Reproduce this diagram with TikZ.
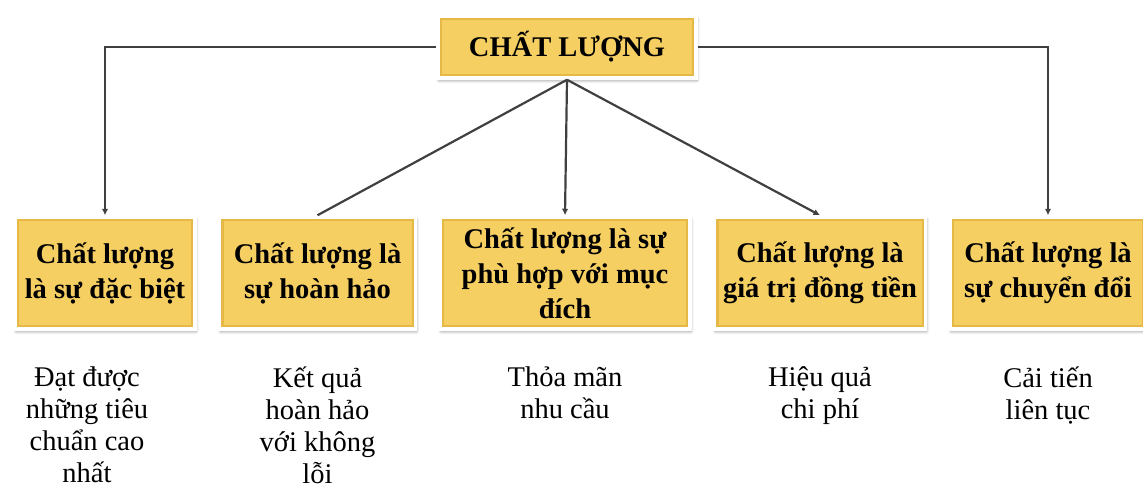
\documentclass[tikz,border=0pt]{standalone}
\usepackage{fontspec}
\setmainfont{Liberation Serif}
\usepackage{xcolor}
\usetikzlibrary{arrows.meta,shapes,positioning,shadows,shadows.blur}
\definecolor{boxgold}{RGB}{246,207,99}
\definecolor{boxrim}{RGB}{230,184,70}
\definecolor{linegray}{RGB}{64,64,64}
\tikzstyle{block} = [rectangle, draw=white, line width=3.5pt, fill=boxgold,
    align=center, minimum height=112pt, inner sep=2pt,
    font=\bfseries\fontsize{28.5}{35}\selectfont,
    blur shadow={shadow xshift=1pt, shadow yshift=-2.5pt, shadow blur steps=6,
        shadow blur radius=3pt, shadow opacity=40},
    path picture={\draw[boxrim, line width=8pt] (path picture bounding box.south west)
        rectangle (path picture bounding box.north east);}]
\tikzstyle{line} = [draw=linegray, line width=2.2pt, -{Latex[length=6.5pt, width=6.5pt]}]
\tikzstyle{plain} = [draw=linegray, line width=2.2pt]
\tikzstyle{note} = [align=center, inner sep=0pt, font=\fontsize{28.5}{32}\selectfont]

\begin{document}
\begin{tikzpicture}[x=1pt, y=-1pt, node distance=21pt]
    \useasboundingbox (0,0) rectangle (1143,483);
    % Place nodes
    \node [block, minimum width=258pt, minimum height=62pt] (quality) at (567,47) {CHẤT LƯỢNG};
    \node [block, minimum width=180pt] (special) at (105,273) {Chất lượng\\là sự đặc biệt};
    \node [block, minimum width=196pt, right=of special] (perfect) {Chất lượng là\\sự hoàn hảo};
    \node [block, minimum width=250pt, right=of perfect] (purpose) {Chất lượng là sự\\phù hợp với mục\\đích};
    \node [block, minimum width=211pt, right=of purpose] (value) {Chất lượng là\\giá trị đồng tiền};
    \node [block, minimum width=196pt, right=of value] (change) {Chất lượng là\\sự chuyển đổi};

    % Notes below the boxes
    \node [note, below=36pt of special, xshift=-18pt] (specialtxt) {Đạt được\\những tiêu\\chuẩn cao\\nhất};
    \node [note, below=36pt of perfect] (perfecttxt) {Kết quả\\hoàn hảo\\với không\\lỗi};
    \node [note, below=36pt of purpose] (purposetxt) {Thỏa mãn\\nhu cầu};
    \node [note, below=36pt of value] (valuetxt) {Hiệu quả\\chi phí};
    \node [note, below=36pt of change] (changetxt) {Cải tiến\\liên tục};

    % Draw edges
    \path [line] (quality.west) -| (special.north);
    \path [line] (quality.east) -| (change.north);
    \path [plain] (quality.south) -- (perfect.north);
    \path [line] (quality.south) -- (purpose.north);
    \path [line] (quality.south) -- (value.north);
\end{tikzpicture}
\end{document}
